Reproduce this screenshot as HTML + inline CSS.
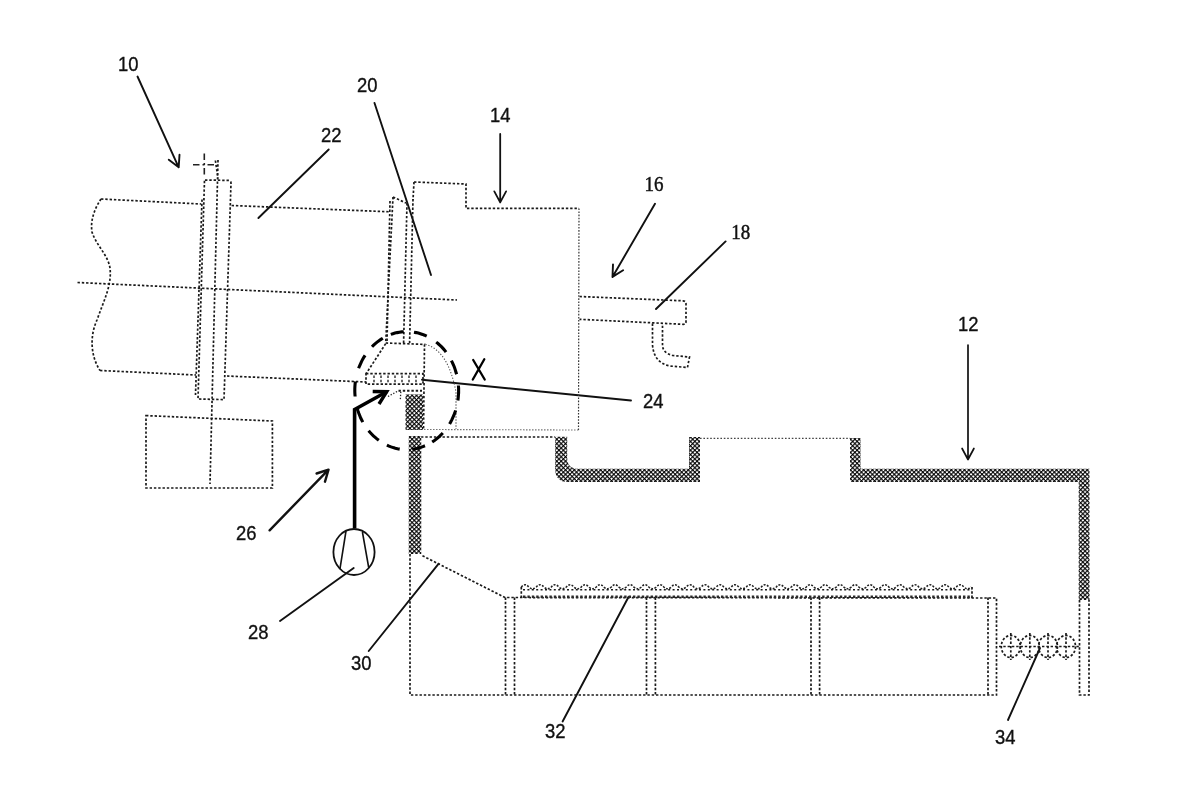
<!DOCTYPE html>
<html><head><meta charset="utf-8">
<style>
html,body{margin:0;padding:0;background:#fff;width:1200px;height:801px;overflow:hidden}
svg{display:block;will-change:transform}
.d{fill:none;stroke:#1a1a1a;stroke-width:1.7;stroke-dasharray:2.4 1.9}
.df{fill:none;stroke:#555;stroke-width:1.1;stroke-dasharray:1.3 1.7}
.s{fill:none;stroke:#111;stroke-width:1.9;stroke-linecap:round;stroke-linejoin:round}
.t{fill:none;stroke:#000;stroke-width:3;stroke-linecap:butt;stroke-linejoin:miter}
.h{fill:url(#hatch);stroke:none}
text{font-family:"Liberation Sans",sans-serif;font-size:20px;fill:#111;stroke:#111;stroke-width:0.35}
</style></head>
<body>
<svg width="1200" height="801" viewBox="0 0 1200 801">
<defs>
<pattern id="hatch" width="3.1" height="3.1" patternUnits="userSpaceOnUse" patternTransform="rotate(45)">
<rect width="3.1" height="3.1" fill="#fff"/>
<rect x="0" y="0" width="3.1" height="1.15" fill="#111"/>
<rect x="0" y="0" width="1.15" height="3.1" fill="#111"/>
<rect x="0" y="0" width="1.2" height="1.2" fill="#000"/>
</pattern>
</defs>
<rect width="1200" height="801" fill="#fff"/>

<!-- ============ LABELS ============ -->
<text x="118" y="71" textLength="20.5" lengthAdjust="spacingAndGlyphs">10</text>
<text x="321" y="142" textLength="20.5" lengthAdjust="spacingAndGlyphs">22</text>
<text x="357" y="92" textLength="20.5" lengthAdjust="spacingAndGlyphs">20</text>
<text x="490" y="122" textLength="20.5" lengthAdjust="spacingAndGlyphs">14</text>
<text x="644.5" y="190.6" textLength="19" lengthAdjust="spacingAndGlyphs" style="font-family:'Liberation Serif',serif;font-size:20.5px;stroke-width:0.45">16</text>
<text x="731.3" y="238.6" textLength="19" lengthAdjust="spacingAndGlyphs" style="font-family:'Liberation Serif',serif;font-size:20.5px;stroke-width:0.45">18</text>
<text x="643" y="407.5" textLength="20.5" lengthAdjust="spacingAndGlyphs">24</text>
<text x="958" y="331" textLength="20.5" lengthAdjust="spacingAndGlyphs">12</text>
<text x="236" y="540" textLength="20.5" lengthAdjust="spacingAndGlyphs">26</text>
<text x="248" y="639" textLength="20.5" lengthAdjust="spacingAndGlyphs">28</text>
<text x="351" y="670" textLength="20.5" lengthAdjust="spacingAndGlyphs">30</text>
<text x="545" y="738" textLength="20.5" lengthAdjust="spacingAndGlyphs">32</text>
<text x="995" y="744" textLength="20.5" lengthAdjust="spacingAndGlyphs">34</text>
<path class="t" d="M473.2,360 L484.7,379.5 M484.3,359.3 L472.8,379.5" style="stroke-width:2.3;stroke-linecap:round"/>

<!-- ============ LEADERS / ARROWS ============ -->
<path class="s" d="M137.5,76.5 L178.7,167.3 M179.5,154.8 L178.7,167.3 L168.8,159.7"/>
<path class="s" d="M328.7,149.5 L258.4,218"/>
<path class="s" d="M374.5,103 L431,275"/>
<path class="s" d="M500.2,134.0 L500.2,202.4 M506.1,191.4 L500.2,202.4 L494.3,191.4" style="stroke-width:1.8"/>
<path class="s" d="M655.0,203.8 L612.5,276.9 M623.1,270.3 L612.5,276.9 L613.0,264.4"/>
<path class="s" d="M725.6,241.4 L656,309"/>
<path class="s" d="M422,379.7 L631,400.5"/>
<path class="s" d="M968.0,345.0 L968.0,459.5 M973.9,448.5 L968.0,459.5 L962.1,448.5" style="stroke-width:1.7"/>
<path class="s" d="M269.6,530.3 L328.5,469.7 M316.6,473.5 L328.5,469.7 L325.0,481.7" style="stroke-width:2.4"/>
<path class="s" d="M353.7,568 L280,621"/>
<path class="s" d="M368.7,651 L438.7,563.7"/>
<path class="s" d="M628.5,597 L562.6,721.5"/>
<path class="s" d="M1008,720 L1040,648"/>

<!-- ============ KILN (left) ============ -->
<g class="d">
<path d="M101,199 L201,204"/>
<path d="M231.6,205.5 L390,211.8"/>
<path d="M100,370.5 L196,375"/>
<path d="M227,376 L366,382"/>
<path d="M101,199 C95,208 90,220 92,232 C96,245 108,255 110,268 C112,285 104,300 97,320 C90,335 90,355 100,370.5"/>
<path d="M77.5,282.5 L457,300"/>
<path d="M205,180 L229,180.4 Q231,181 231,183 L224,399.6 L198,399 L204.5,180"/>
<path d="M202,199.5 L195.5,395"/>
<path d="M218,160 L210,484"/>
<path d="M215.4,160.5 L218,178.5"/>
<path d="M146,415.6 L272.4,421 L272.4,488 L146,488 Z"/>
<path d="M393,197 L406,203 M393,197 L385.7,343"/>
<path d="M390,201 L387,343" />
<path d="M407,203 L403.6,343"/>
<path d="M413,199 L409.6,343"/>
<path d="M414,182 L466,184 L466,208.4 L579,208.4"/>
<path d="M579,208.4 L578.5,430" style="stroke:#333;stroke-width:1.2;stroke-dasharray:1.6 1.5"/>
<path d="M578.5,430 L423,429.5" style="stroke:#666;stroke-width:1.1;stroke-dasharray:1.4 1.6"/>
<path d="M414,182 L413,200"/>
<path d="M579.5,296.5 L683,300.8 Q686,301.2 686,304 L686,321.5 Q686,324.5 683,324.3 L579.5,319.3"/>
<path d="M652.5,323.5 L652.5,345 Q654,363 670,366 L687.5,367.5 L689.5,357 L673,355.5 Q662.5,353 662.5,345 L662.5,324"/>
<path d="M385.7,343 L424.5,344.4 L423.5,430"/>
<path d="M385.7,343.6 L366.2,373.6"/>
<path d="M366,373.7 L423,373.7 L423,384.2 L366,384.2 Z"/>
<path d="M374,375.5 V382.5 M381,375.5 V382.5 M388,375.5 V382.5 M395,375.5 V382.5 M402,375.5 V382.5 M409,375.5 V382.5 M416,375.5 V382.5" style="stroke-width:1.3"/>
<path d="M398.5,390.7 L422,390.7" style="stroke-width:2"/>
</g>
<g class="df">
<path d="M425.4,344.4 Q448,350 456,392 L456,429"/>
<path d="M388,396.5 L398.5,390.7 M400.8,391.8 L400.3,400" style="stroke:#222;stroke-width:1.3"/>
</g>
<path d="M204.3,153.5 V175.4 M193,164.7 H215.4" style="fill:none;stroke:#222;stroke-width:1.6;stroke-dasharray:6.5 3 2 3"/>

<!-- ============ HOOD / COOLER ============ -->
<g class="d">
<path d="M421,437 L555,437"/>
<path d="M700,438.3 L850,438.3" style="stroke:#444;stroke-width:1.3;stroke-dasharray:1.6 1.8"/>
<path d="M410,554 L410,695 L996.5,695 L996.5,598 L505,597.5 L421,555"/>
<path d="M505.5,597.5 V695 M514.5,597.5 V695"/>
<path d="M646.5,597.5 V695 M655.4,597.5 V695"/>
<path d="M811,597.5 V695 M819.6,597.5 V695"/>
<path d="M988,597.5 V695"/>
<path d="M1079.5,600 V695 H1089 V600"/>
<path d="M521.3,598 L521.3,587 M972,587 L972,598"/>
<path d="M521.3,587 Q525.0,582.5 528.8,587 Q532.5,590.5 536.3,587 Q540.0,582.5 543.8,587 Q547.5,590.5 551.3,587 Q555.0,582.5 558.8,587 Q562.5,590.5 566.3,587 Q570.0,582.5 573.8,587 Q577.5,590.5 581.3,587 Q585.0,582.5 588.8,587 Q592.5,590.5 596.3,587 Q600.0,582.5 603.8,587 Q607.5,590.5 611.3,587 Q615.0,582.5 618.8,587 Q622.5,590.5 626.3,587 Q630.0,582.5 633.8,587 Q637.5,590.5 641.3,587 Q645.0,582.5 648.8,587 Q652.5,590.5 656.3,587 Q660.0,582.5 663.8,587 Q667.5,590.5 671.3,587 Q675.0,582.5 678.8,587 Q682.5,590.5 686.3,587 Q690.0,582.5 693.8,587 Q697.5,590.5 701.3,587 Q705.0,582.5 708.8,587 Q712.5,590.5 716.3,587 Q720.0,582.5 723.8,587 Q727.5,590.5 731.3,587 Q735.0,582.5 738.8,587 Q742.5,590.5 746.3,587 Q750.0,582.5 753.8,587 Q757.5,590.5 761.3,587 Q765.0,582.5 768.8,587 Q772.5,590.5 776.3,587 Q780.0,582.5 783.8,587 Q787.5,590.5 791.3,587 Q795.0,582.5 798.8,587 Q802.5,590.5 806.3,587 Q810.0,582.5 813.8,587 Q817.5,590.5 821.3,587 Q825.0,582.5 828.8,587 Q832.5,590.5 836.3,587 Q840.0,582.5 843.8,587 Q847.5,590.5 851.3,587 Q855.0,582.5 858.8,587 Q862.5,590.5 866.3,587 Q870.0,582.5 873.8,587 Q877.5,590.5 881.3,587 Q885.0,582.5 888.8,587 Q892.5,590.5 896.3,587 Q900.0,582.5 903.8,587 Q907.5,590.5 911.3,587 Q915.0,582.5 918.8,587 Q922.5,590.5 926.3,587 Q930.0,582.5 933.8,587 Q937.5,590.5 941.3,587 Q945.0,582.5 948.8,587 Q952.5,590.5 956.3,587 Q960.0,582.5 963.8,587 Q967.5,590.5 971.3,587" style="stroke-dasharray:2 1.4;stroke-width:1.6;stroke:#222"/>
<path d="M523,589.8 H972" style="stroke-dasharray:2 2.4;stroke-width:1.5"/>
<path d="M523,596.8 H972" style="stroke-dasharray:2.4 2;stroke-width:2.6;stroke:#2a2a2a"/>
<path d="M999,646.5 H1080"/>
<path d="M1010.8,633 V660 M1029.8,633 V660 M1048,633 V660 M1066,633 V660"/>
<ellipse cx="1010.8" cy="646.5" rx="9.5" ry="11"/>
<ellipse cx="1029.8" cy="646.5" rx="9.5" ry="11"/>
<ellipse cx="1048" cy="646.5" rx="9.5" ry="11"/>
<ellipse cx="1066" cy="646.5" rx="9.5" ry="11"/>
</g>

<path class="h" d="M405.5,394.4 H423 V430 H405.5 Z"/>
<path class="h" d="M408.75,436 H421.25 V554 H408.75 Z"/>
<path class="h" d="M555.2,436.7 H567.2 V458 Q567.2,468.8 578,468.8 H689 V437 H700 V482 H568 Q555.2,482 555.2,469 Z"/>
<path class="h" d="M850,438 H860.5 V468.8 H1089.5 V600 H1078.7 V482 H850 Z"/>

<!-- ============ THICK ARROW & FAN ============ -->
<path class="t" d="M354.6,528.6 L354.6,409.5 L386.7,391.7" style="stroke-width:3.6"/>
<path class="t" d="M372.7,391.5 L386.7,391.7 L379,404" style="stroke-width:3.4"/>
<ellipse cx="354" cy="552" rx="20.6" ry="23" style="fill:none;stroke:#111;stroke-width:1.8"/>
<path class="s" d="M346,531 L340,568.7 M362.5,532.5 L368.7,567.5" style="stroke-width:1.6"/>

<path d="M458.4,385.5 L458.6,388.0 L458.6,390.5 L458.6,393.0 L458.4,395.5 L458.2,398.0 L457.9,400.5 M455.6,410.5 L454.8,412.9 L453.9,415.2 L452.9,417.4 L451.9,419.6 L450.8,421.8 L449.6,423.9 M442.8,433.0 L441.2,434.7 L439.5,436.3 L437.8,437.9 L436.0,439.3 L434.1,440.7 L432.2,442.0 M425.0,445.8 L422.9,446.6 L420.8,447.4 L418.7,448.0 L416.5,448.5 L414.3,449.0 L412.2,449.3 M399.7,449.1 L397.5,448.7 L395.3,448.2 L393.2,447.6 L391.1,446.9 L389.0,446.1 L386.9,445.1 M378.8,440.3 L376.9,438.9 L375.2,437.4 L373.4,435.9 L371.8,434.2 L370.2,432.5 L368.6,430.7 M362.8,422.1 L361.7,420.0 L360.6,417.8 L359.7,415.5 L358.8,413.2 L358.0,410.9 L357.3,408.5 M355.1,396.5 L354.9,394.0 L354.8,391.5 L354.8,389.0 L354.9,386.5 L355.1,384.0 L355.4,381.5 M358.6,368.3 L359.5,366.0 L360.5,363.8 L361.5,361.6 L362.6,359.4 L363.8,357.3 L365.1,355.3 M372.0,346.8 L373.6,345.1 L375.3,343.6 L377.1,342.1 L379.0,340.7 L380.9,339.4 L382.8,338.2 M390.8,334.4 L392.9,333.7 L395.0,333.1 L397.2,332.6 L399.4,332.2 L401.6,331.9 L403.8,331.7 M414.0,332.2 L416.2,332.6 L418.3,333.1 L420.4,333.7 L422.6,334.4 L424.6,335.2 L426.7,336.2 M436.2,342.1 L438.0,343.5 L439.7,345.1 L441.4,346.7 L443.0,348.4 L444.6,350.2 L446.0,352.1 M451.4,360.6 L452.5,362.8 L453.5,365.0 L454.4,367.3 L455.2,369.6 L455.9,372.0 L456.6,374.3" style="fill:none;stroke:#000;stroke-width:3.1"/>

</svg>
</body></html>
